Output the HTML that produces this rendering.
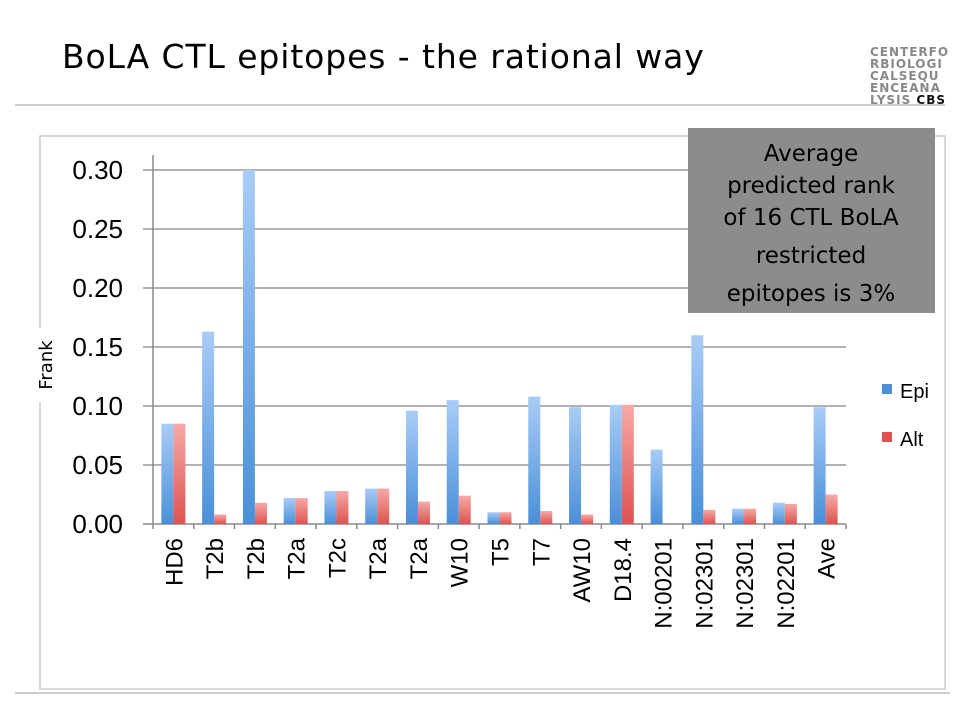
<!DOCTYPE html>
<html><head><meta charset="utf-8"><style>
body{margin:0;background:#fff;width:960px;height:720px;overflow:hidden;font-family:"Liberation Sans",sans-serif}
</style></head><body>
<svg width="960" height="720" xmlns="http://www.w3.org/2000/svg">
<defs>
<linearGradient id="gb" x1="0" y1="0" x2="0" y2="1"><stop offset="0" stop-color="#a9ccf7"/><stop offset="1" stop-color="#4a8fd8"/></linearGradient>
<linearGradient id="gr" x1="0" y1="0" x2="0" y2="1"><stop offset="0" stop-color="#f7a9a6"/><stop offset="1" stop-color="#dd5350"/></linearGradient>
</defs>
<text x="62" y="68" font-family="DejaVu Sans, sans-serif" font-size="33" letter-spacing="0.9" fill="#000">BoLA CTL epitopes - the rational way</text>
<g font-family="DejaVu Sans, sans-serif" font-weight="bold" font-size="12" letter-spacing="1" fill="#888">
<text x="870" y="56">CENTERFO</text><text x="870" y="68">RBIOLOGI</text><text x="870" y="80">CALSEQU</text><text x="870" y="92">ENCEANA</text><text x="870" y="104">LYSIS <tspan fill="#111">CBS</tspan></text>
</g>
<line x1="15" y1="105" x2="945" y2="105" stroke="#bbb" stroke-width="1.5"/>
<line x1="15" y1="693" x2="950" y2="693" stroke="#bbb" stroke-width="1.5"/>
<rect x="40" y="136" width="905" height="553" fill="none" stroke="#ccc" stroke-width="1.5"/>
<g id="chart"></g>
<rect x="688" y="128" width="247" height="185" fill="#8c8c8c"/>
<g font-family="DejaVu Sans, sans-serif" font-size="23" text-anchor="middle" fill="#000">
<text x="811" y="161">Average</text><text x="811" y="193">predicted rank</text><text x="811" y="225">of 16 CTL BoLA</text><text x="811" y="263">restricted</text><text x="811" y="301">epitopes is 3%</text>
</g>
<rect x="32" y="328" width="26" height="74" fill="#fff"/>
<text transform="translate(52,365) rotate(-90)" font-family="DejaVu Sans, sans-serif" font-size="18" text-anchor="middle">Frank</text>
<g>
<rect x="882" y="384" width="10" height="10" fill="#4a8fd8"/>
<text x="900" y="398" font-size="20">Epi</text>
<rect x="882" y="432" width="10" height="10" fill="#dd5350"/>
<text x="900" y="446" font-size="20">Alt</text>
</g>
</svg>
<script>
const categories=["HD6","T2b","T2b","T2a","T2c","T2a","T2a","W10","T5","T7","AW10","D18.4","N:00201","N:02301","N:02301","N:02201","Ave"];
const epi=[0.085,0.163,0.30,0.022,0.028,0.030,0.096,0.105,0.010,0.108,0.099,0.101,0.063,0.160,0.013,0.018,0.099];
const alt=[0.085,0.008,0.018,0.022,0.028,0.030,0.019,0.024,0.010,0.011,0.008,0.101,0,0.012,0.013,0.017,0.025];
const yTicks=[0,0.05,0.10,0.15,0.20,0.25,0.30];
const NS="http://www.w3.org/2000/svg";
const g=document.getElementById('chart');
const x0=153,x1=846,y0=524,y1=170,ymax=0.30;
const band=(x1-x0)/categories.length;
const yS=v=>y0-(v/ymax)*(y0-y1);
const xS=i=>x0+i*band;
function mk(t,a){const e=document.createElementNS(NS,t);for(const k in a)e.setAttribute(k,a[k]);g.appendChild(e);return e;}
yTicks.forEach(v=>{
 const l=mk('line',{x1:x0-10,x2:x1,y1:yS(v),y2:yS(v),stroke:v===0?'#888':'#999','stroke-width':1.5});
 
 
 const t=mk('text',{x:x0-30,y:yS(v)+9,'font-size':26,'text-anchor':'end',fill:'#000'});
 t.textContent=v.toFixed(2);
 
 
});
const ax=mk('line',{x1:x0,x2:x0,y1:y1-15,y2:y0,stroke:'#888','stroke-width':1.5});


categories.forEach((c,i)=>{
 const tk=mk('line',{x1:xS(i),x2:xS(i),y1:y0,y2:y0+5,stroke:'#888','stroke-width':1.5});
 
 
 const cx=xS(i)+band/2;
 const b=mk('rect',{x:cx-12,y:yS(epi[i]),width:12,height:y0-yS(epi[i]),fill:'url(#gb)'});
 
 
 const r=mk('rect',{x:cx,y:yS(alt[i]),width:12,height:y0-yS(alt[i]),fill:'url(#gr)'});
 
 
 const t=mk('text',{transform:`translate(${cx+9},538) rotate(-90)`,'font-size':24,'text-anchor':'end',fill:'#000'});
 t.textContent=c;
 
 
});
const tk=mk('line',{x1:x1,x2:x1,y1:y0,y2:y0+5,stroke:'#888','stroke-width':1.5});


</script>
</body></html>
